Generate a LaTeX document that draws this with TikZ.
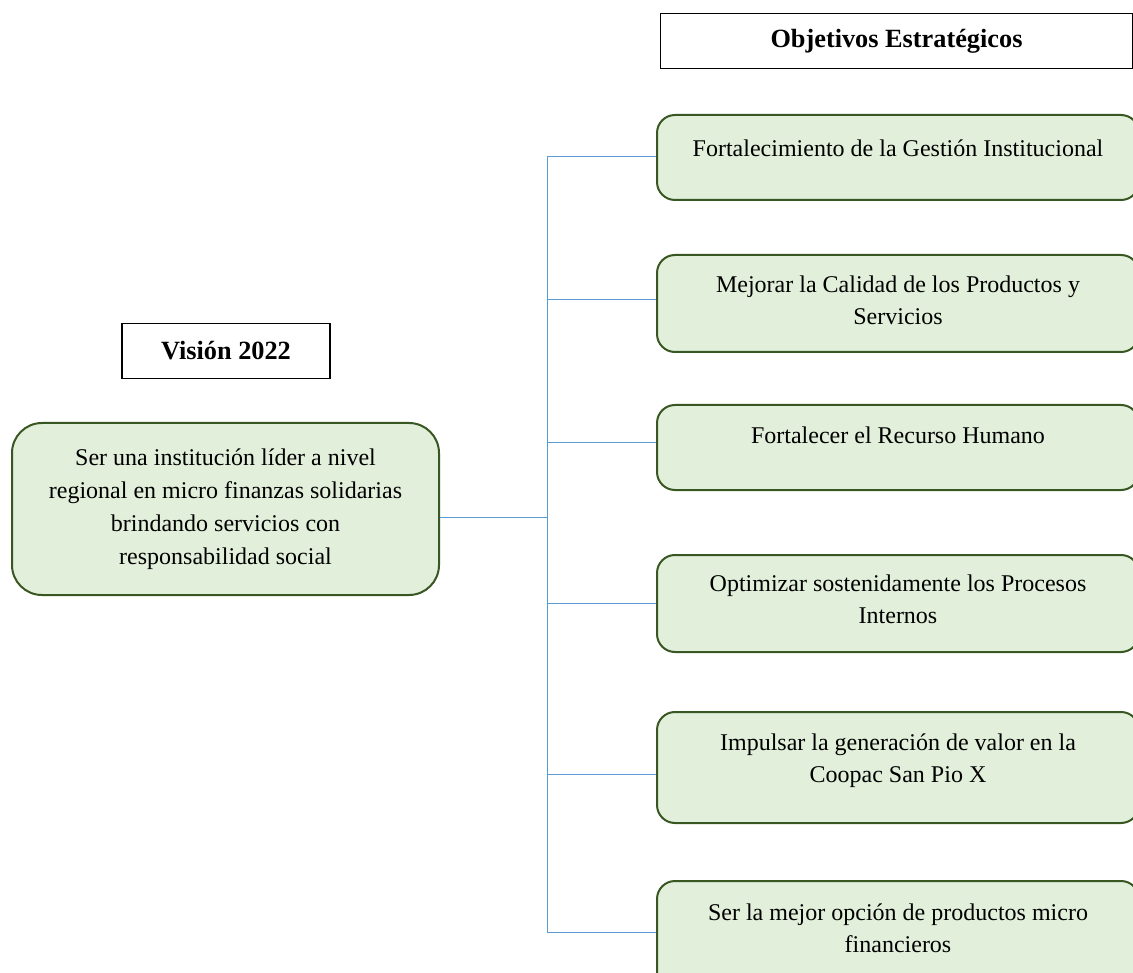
\documentclass[tikz,border=0pt]{standalone}
\usepackage{fontspec}
\setmainfont{Liberation Serif}
\begin{document}
\begin{tikzpicture}[x=1pt,y=-1pt,
  head/.style={draw=black, line width=1.2pt, fill=white, font=\fontsize{26.3}{30}\selectfont\bfseries, inner sep=0pt},
  gbox/.style={draw={rgb,255:red,56;green,87;blue,35}, line width=2pt,
    fill={rgb,255:red,226;green,239;blue,218}, rounded corners=18pt, inner sep=0pt},
  txt/.style={font=\fontsize{24}{32}\selectfont, align=center, inner sep=0pt},
  link/.style={draw={rgb,255:red,91;green,155;blue,213}, line width=1pt}
]
\useasboundingbox (0,0) rectangle (1133,973);
\begin{scope}
\clip (0,0) rectangle (1133,973);

% headings
\node[head, minimum width=472pt, minimum height=55pt] (hobj) at (896.5,41) {Objetivos Estratégicos};
\node[head, minimum width=208pt, minimum height=55pt] (hvis) at (226,351) {Visión 2022};

% vision box
\node[gbox, rounded corners=30pt, minimum width=427pt, minimum height=172pt] (vis) at (225.5,509) {};
\node[txt, font=\fontsize{24}{33}\selectfont] (vist) at (225.5,509) {Ser una institución líder a nivel\\regional en micro finanzas solidarias\\brindando servicios con\\responsabilidad social};

% objective boxes (they run past the right and bottom edges)
\node[gbox, minimum width=482pt, minimum height=85pt]  (o1) at (898,157.5) {};
\node[gbox, minimum width=482pt, minimum height=97pt]  (o2) at (898,303.5) {};
\node[gbox, minimum width=482pt, minimum height=85pt]  (o3) at (898,447.5) {};
\node[gbox, minimum width=482pt, minimum height=97pt]  (o4) at (898,603.5) {};
\node[gbox, minimum width=482pt, minimum height=111pt] (o5) at (898,767.5) {};
\node[gbox, minimum width=482pt, minimum height=111pt] (o6) at (898,936.5) {};

\node[txt] (t1) at (898,148) {Fortalecimiento de la Gestión Institucional};
\node[txt] (t2) at (898,300) {Mejorar la Calidad de los Productos y\\Servicios};
\node[txt] (t3) at (898,435) {Fortalecer el Recurso Humano};
\node[txt] (t4) at (898,599) {Optimizar sostenidamente los Procesos\\Internos};
\node[txt] (t5) at (898,761) {Impulsar la generación de valor en la\\Coopac San Pio X};
\node[txt] (t6) at (898,928) {Ser la mejor opción de productos micro\\financieros};

% connectors
\coordinate (bus) at (547,517);
\draw[link] (vis.east |- bus) -- (bus);
\draw[link] (547,157) -- (547,932);
\draw[link] (547,157) -- (o1.west |- 547,157);
\draw[link] (547,300) -- (o2.west |- 547,300);
\draw[link] (547,443) -- (o3.west |- 547,443);
\draw[link] (547,603) -- (o4.west |- 547,603);
\draw[link] (547,774) -- (o5.west |- 547,774);
\draw[link] (547,932) -- (o6.west |- 547,932);
\end{scope}
\end{tikzpicture}
\end{document}
